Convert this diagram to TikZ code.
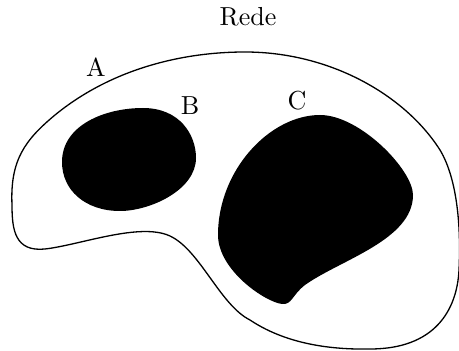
\documentclass[tikz,border=0pt]{standalone}
\usepackage{tikz}
\usetikzlibrary{positioning}

\begin{document}
\begin{tikzpicture}[
      x=0.384pt,y=-0.384pt,
      region/.style={draw=black,line width=0.5pt},
      blob/.style={fill=black,draw=none},
      lbl/.style={font=\normalsize,inner sep=1pt}
    ]
    \useasboundingbox (0,0) rectangle (459,351);
    % outer region A
    \draw[region] (12,205) .. controls (10,160) and (25,140) .. (55,115)
      .. controls (110,70) and (180,52) .. (245,52)
      .. controls (330,52) and (405,95) .. (440,150)
      .. controls (458,180) and (461,230) .. (459,270)
      .. controls (457,310) and (435,349) .. (370,349)
      .. controls (320,350) and (280,340) .. (250,320)
      .. controls (220,305) and (200,250) .. (170,236)
      .. controls (140,222) and (80,245) .. (45,249)
      .. controls (15,252) and (12,230) .. cycle;
    % region B
    \fill[blob] (62,162) .. controls (62,125) and (105,108) .. (143,108)
      .. controls (180,108) and (196,135) .. (196,158)
      .. controls (196,190) and (150,211) .. (120,211)
      .. controls (85,211) and (62,190) .. cycle;
    % region C
    \fill[blob] (218,235) .. controls (218,170) and (270,115) .. (320,115)
      .. controls (360,115) and (413,170) .. (413,195)
      .. controls (413,240) and (340,260) .. (305,285)
      .. controls (292,295) and (292,305) .. (282,304)
      .. controls (265,302) and (218,270) .. cycle;
    \node[lbl] (rede) at (248,17) {Rede};
    \node[lbl] (A) at (96,67) {A};
    \node[lbl] (B) at (190,106) {B};
    \node[lbl] (C) at (297,101) {C};
  \end{tikzpicture}
\end{document}
